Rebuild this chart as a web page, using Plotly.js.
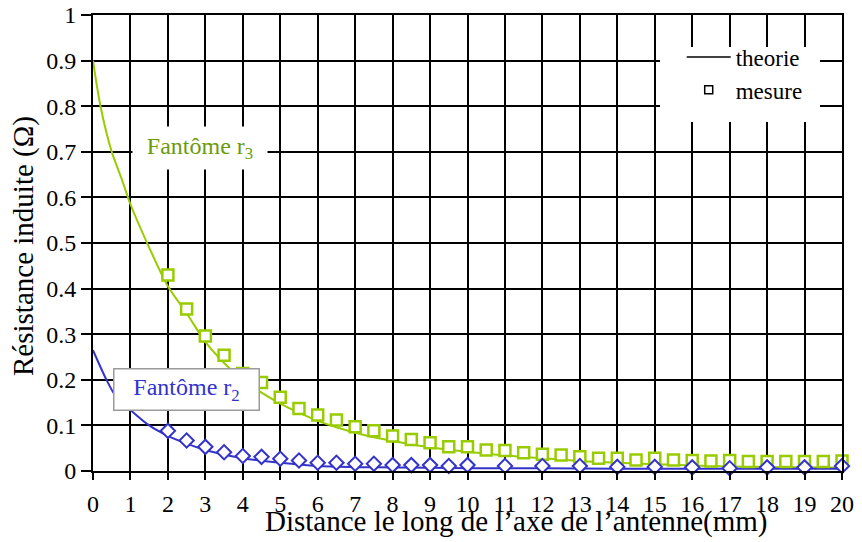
<!DOCTYPE html>
<html>
<head>
<meta charset="utf-8">
<script src="https://cdn.plot.ly/plotly-3.0.1.min.js"></script>
<style>
html,body{margin:0;padding:0;background:#fff;}
#chart{width:862px;height:542px;}
</style>
</head>
<body>
<div id="chart"></div>
<script>
// Theory curves
const theoryR3X = [0, 0.2, 0.5, 0.76, 1, 1.5, 2, 2.5, 3, 3.5, 4, 4.5, 5, 5.5, 6, 6.5, 7, 7.5, 8, 9, 10, 11, 12, 13, 14, 15, 16, 17, 18, 19, 20];
const theoryR3Y = [0.90, 0.80, 0.70, 0.642, 0.585, 0.49, 0.405, 0.346, 0.283, 0.237, 0.200, 0.172, 0.148, 0.128, 0.110, 0.096, 0.084, 0.074, 0.066, 0.052, 0.042, 0.034, 0.028, 0.022, 0.018, 0.015, 0.012, 0.010, 0.009, 0.008, 0.007];

const theoryR2X = [0, 0.36, 0.6, 1, 1.5, 2, 2.5, 3, 3.5, 4, 5, 6, 7.5, 9, 10, 12, 14, 16, 18, 20];
const theoryR2Y = [0.265, 0.20, 0.165, 0.134, 0.100, 0.077, 0.060, 0.046, 0.036, 0.028, 0.018, 0.011, 0.008, 0.007, 0.006, 0.006, 0.005, 0.005, 0.005, 0.005];

// Measurements
const mesureR3X = [2, 2.5, 3, 3.5, 4, 4.5, 5, 5.5, 6, 6.5, 7, 7.5, 8, 8.5, 9, 9.5, 10, 10.5, 11, 11.5, 12, 12.5, 13, 13.5, 14, 14.5, 15, 15.5, 16, 16.5, 17, 17.5, 18, 18.5, 19, 19.5, 20];
const mesureR3Y = [0.430, 0.355, 0.296, 0.254, 0.214, 0.194, 0.162, 0.137, 0.123, 0.112, 0.097, 0.088, 0.077, 0.069, 0.062, 0.053, 0.053, 0.046, 0.045, 0.040, 0.037, 0.035, 0.031, 0.028, 0.028, 0.024, 0.028, 0.024, 0.023, 0.022, 0.023, 0.021, 0.021, 0.021, 0.021, 0.021, 0.022];

const mesureR2X = [2, 2.5, 3, 3.5, 4, 4.5, 5, 5.5, 6, 6.5, 7, 7.5, 8, 8.5, 9, 9.5, 10, 11, 12, 13, 14, 15, 16, 17, 18, 19, 20];
const mesureR2Y = [0.088, 0.067, 0.053, 0.041, 0.033, 0.031, 0.027, 0.023, 0.018, 0.018, 0.016, 0.016, 0.013, 0.013, 0.013, 0.011, 0.013, 0.011, 0.011, 0.011, 0.009, 0.009, 0.008, 0.006, 0.008, 0.008, 0.011];

const xTicks = [0,1,2,3,4,5,6,7,8,9,10,11,12,13,14,15,16,17,18,19,20];
const yTicks = [0,0.1,0.2,0.3,0.4,0.5,0.6,0.7,0.8,0.9,1];
const yTickText = ['0','0.1','0.2','0.3','0.4','0.5','0.6','0.7','0.8','0.9','1'];

const GREEN = '#99cc00';
const GREEN_TEXT = '#6b9a0c';
const BLUE = '#3333cc';
const FONT = 'Liberation Serif';

const traces = [
  {x: theoryR3X, y: theoryR3Y, mode: 'lines', line: {color: GREEN, width: 2, shape: 'spline', smoothing: 0.8}, showlegend: false, hoverinfo: 'skip'},
  {x: theoryR2X, y: theoryR2Y, mode: 'lines', line: {color: BLUE, width: 2, shape: 'spline', smoothing: 0.8}, showlegend: false, hoverinfo: 'skip'},
  {x: mesureR3X, y: mesureR3Y, mode: 'markers', marker: {symbol: 'square', size: 11, color: '#ffffff', line: {color: GREEN, width: 2.5}}, cliponaxis: false, showlegend: false},
  {x: mesureR2X, y: mesureR2Y, mode: 'markers', marker: {symbol: 'diamond', size: 11, color: '#ffffff', line: {color: BLUE, width: 2}}, cliponaxis: false, showlegend: false},
  {x: [null], y: [null], name: 'theorie', mode: 'lines', line: {color: '#000000', width: 1.5}},
  {x: [null], y: [null], name: 'mesure', mode: 'markers', marker: {symbol: 'square', size: 8, color: '#ffffff', line: {color: '#000000', width: 1.5}}}
];

const axisCommon = {
  showgrid: true, gridcolor: '#000000', gridwidth: 2,
  showline: true, linecolor: '#000000', linewidth: 2, mirror: true,
  zeroline: false, ticks: 'outside', tickcolor: '#000000', tickwidth: 2,
  tickfont: {family: FONT, size: 24, color: '#000000'}
};

const layout = {
  width: 862, height: 542,
  margin: {l: 93, r: 20, t: 15, b: 71},
  paper_bgcolor: '#ffffff', plot_bgcolor: '#ffffff',
  font: {family: FONT, color: '#000000'},
  xaxis: Object.assign({}, axisCommon, {range: [0, 20], tickmode: 'array', tickvals: xTicks, ticklen: 7, ticklabelstandoff: 3}),
  yaxis: Object.assign({}, axisCommon, {range: [0, 1], tickmode: 'array', tickvals: yTicks, ticktext: yTickText, ticklen: 10}),
  showlegend: true,
  legend: {x: 0.786, y: 0.955, xanchor: 'left', yanchor: 'top', bgcolor: 'rgba(0,0,0,0)', borderwidth: 0,
           font: {family: FONT, size: 23, color: '#000000'}, itemwidth: 44},
  shapes: [
    {type: 'rect', xref: 'paper', yref: 'paper', x0: (660-93)/749, x1: (820-93)/749, y0: (471-122)/456, y1: (471-47)/456,
     fillcolor: '#ffffff', line: {width: 0}, layer: 'above'}
  ],
  annotations: [
    {x: 2.85, y: 0.708, xref: 'x', yref: 'y', text: 'Fantôme r<sub>3</sub>', showarrow: false,
     font: {family: FONT, size: 24, color: GREEN_TEXT}, bgcolor: '#ffffff', width: 130, height: 38, borderpad: 2},
    {x: 2.49, y: 0.178, xref: 'x', yref: 'y', text: 'Fantôme r<sub>2</sub>', showarrow: false,
     font: {family: FONT, size: 24, color: BLUE}, bgcolor: '#ffffff', bordercolor: '#9a9a9a', borderwidth: 1.5,
     width: 140, height: 36, borderpad: 2},
    {x: (516-93)/749, y: (471-521)/456, xref: 'paper', yref: 'paper', text: 'Distance le long de l\u2019axe de l\u2019antenne(mm)',
     showarrow: false, xanchor: 'center', yanchor: 'middle', font: {family: FONT, size: 29, color: '#000000'}},
    {x: (24-93)/749, y: (471-246)/456, xref: 'paper', yref: 'paper', text: 'Résistance induite (Ω)', textangle: -90,
     showarrow: false, xanchor: 'center', yanchor: 'middle', font: {family: FONT, size: 29, color: '#000000'}}
  ]
};

Plotly.newPlot('chart', traces, layout, {staticPlot: true, displayModeBar: false});
</script>
</body>
</html>
